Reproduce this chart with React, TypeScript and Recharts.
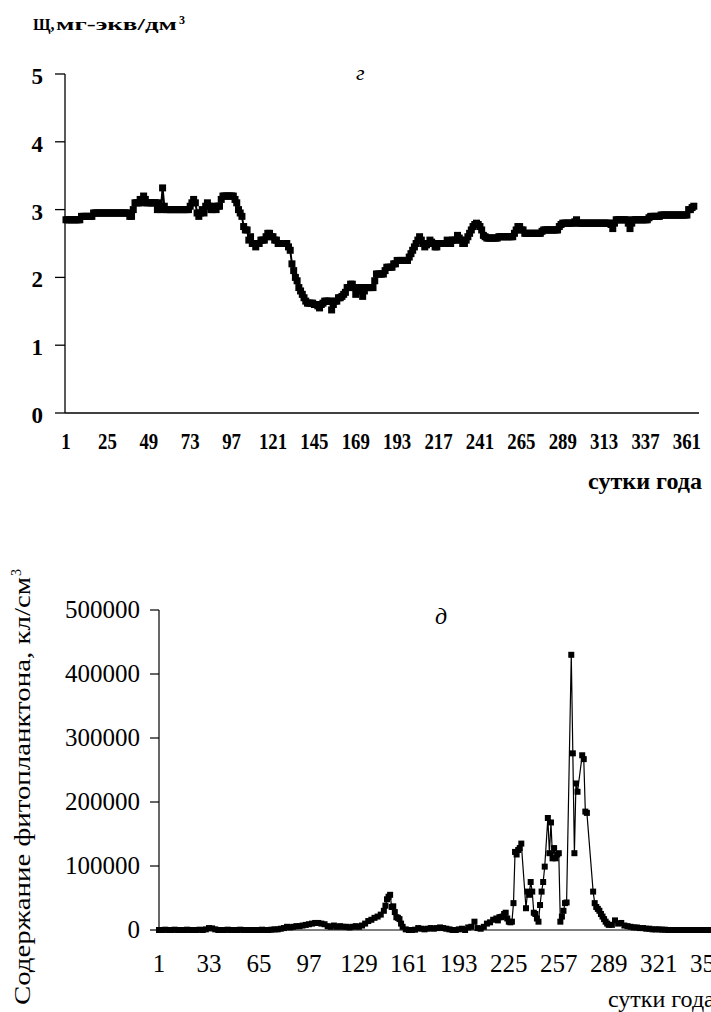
import React from "react";
import { LineChart, Line, XAxis, YAxis } from "recharts";

// Щелочность (мг-экв/дм3) по суткам года, 1..365
const alkalinity = [
  2.85, 2.85, 2.85, 2.85, 2.85, 2.85, 2.85, 2.85, 2.85, 2.9,
  2.9, 2.9, 2.9, 2.9, 2.9, 2.9, 2.95, 2.95, 2.95, 2.95,
  2.95, 2.95, 2.95, 2.95, 2.95, 2.95, 2.95, 2.95, 2.95, 2.95,
  2.95, 2.95, 2.95, 2.95, 2.95, 2.95, 2.95, 2.9, 2.9, 3.0,
  3.1, 3.1, 3.1, 3.15, 3.1, 3.2, 3.15, 3.1, 3.1, 3.1,
  3.1, 3.1, 3.1, 3.0, 3.1, 3.0, 3.32, 3.05, 3.0, 3.0,
  3.0, 3.0, 3.0, 3.0, 3.0, 3.0, 3.0, 3.0, 3.0, 3.0,
  3.0, 3.0, 3.05, 3.1, 3.15, 3.1, 2.95, 2.9, 2.95, 3.0,
  2.95, 3.05, 3.1, 3.05, 3.0, 3.0, 3.05, 3.0, 3.05, 3.05,
  3.15, 3.2, 3.2, 3.2, 3.2, 3.2, 3.2, 3.2, 3.15, 3.1,
  3.0, 2.95, 2.9, 2.75, 2.7, 2.7, 2.55, 2.6, 2.5, 2.5,
  2.45, 2.5, 2.5, 2.55, 2.55, 2.55, 2.6, 2.65, 2.65, 2.6,
  2.6, 2.55, 2.55, 2.5, 2.5, 2.5, 2.5, 2.5, 2.5, 2.45,
  2.4, 2.2, 2.1, 2.0, 1.95, 1.85, 1.8, 1.75, 1.7, 1.65,
  1.62, 1.62, 1.62, 1.62, 1.6, 1.6, 1.58, 1.55, 1.6, 1.62,
  1.65, 1.65, 1.65, 1.65, 1.52, 1.6, 1.65, 1.65, 1.7, 1.7,
  1.72, 1.75, 1.78, 1.85, 1.85, 1.9, 1.9, 1.85, 1.75, 1.8,
  1.85, 1.85, 1.72, 1.8, 1.85, 1.85, 1.85, 1.85, 1.85, 1.95,
  2.05, 2.05, 2.05, 2.05, 2.05, 2.1, 2.15, 2.15, 2.15, 2.15,
  2.2, 2.2, 2.25, 2.25, 2.25, 2.25, 2.25, 2.25, 2.25, 2.3,
  2.35, 2.4, 2.45, 2.5, 2.55, 2.6, 2.55, 2.5, 2.45, 2.48,
  2.5, 2.55, 2.52, 2.5, 2.45, 2.45, 2.5, 2.5, 2.5, 2.5,
  2.5, 2.55, 2.5, 2.5, 2.55, 2.55, 2.55, 2.62, 2.58, 2.55,
  2.5, 2.5, 2.55, 2.6, 2.65, 2.7, 2.75, 2.78, 2.8, 2.78,
  2.75, 2.7, 2.62, 2.6, 2.58, 2.58, 2.58, 2.58, 2.58, 2.58,
  2.58, 2.6, 2.6, 2.6, 2.6, 2.6, 2.6, 2.6, 2.6, 2.6,
  2.65, 2.7, 2.75, 2.75, 2.7, 2.7, 2.65, 2.65, 2.65, 2.65,
  2.65, 2.65, 2.65, 2.65, 2.65, 2.65, 2.68, 2.7, 2.7, 2.7,
  2.7, 2.7, 2.7, 2.7, 2.7, 2.7, 2.75, 2.78, 2.8, 2.8,
  2.8, 2.8, 2.8, 2.8, 2.8, 2.82, 2.85, 2.8, 2.8, 2.8,
  2.8, 2.8, 2.8, 2.8, 2.8, 2.8, 2.8, 2.8, 2.8, 2.8,
  2.8, 2.8, 2.8, 2.8, 2.8, 2.8, 2.78, 2.72, 2.8, 2.85,
  2.85, 2.85, 2.85, 2.85, 2.85, 2.85, 2.8, 2.72, 2.8, 2.85,
  2.85, 2.85, 2.85, 2.85, 2.85, 2.85, 2.85, 2.85, 2.88, 2.9,
  2.9, 2.9, 2.9, 2.9, 2.9, 2.92, 2.92, 2.92, 2.92, 2.92,
  2.92, 2.92, 2.92, 2.92, 2.92, 2.92, 2.92, 2.92, 2.92, 2.92,
  2.92, 3.0, 3.0, 3.03, 3.05,
];
const alkXTicks = [1, 25, 49, 73, 97, 121, 145, 169, 193, 217, 241, 265, 289, 313, 337, 361];
const alkYTicks = [0, 1, 2, 3, 4, 5];

// Фитопланктон, кл/см3: сутки наблюдений и численность
const phytoDays = [
  1, 3, 5, 7, 9, 11, 13, 15, 17, 19,
  21, 23, 25, 27, 29, 31, 33, 35, 37, 39,
  41, 43, 45, 47, 49, 51, 53, 55, 57, 59,
  61, 63, 65, 67, 69, 71, 73, 75, 77, 79,
  81, 83, 85, 87, 89, 91, 93, 95, 97, 99,
  101, 103, 105, 107, 109, 111, 113, 115, 117, 119,
  121, 123, 125, 127, 129, 131, 133, 135, 137, 139,
  141, 143, 145, 146, 147, 148, 149, 150, 151, 152,
  153, 154, 155, 156, 157, 159, 161, 163, 165, 167,
  169, 171, 173, 175, 177, 179, 181, 183, 185, 187,
  189, 191, 193, 195, 197, 199, 201, 203, 205, 207,
  209, 211, 213, 215, 217, 218, 219, 220, 221, 222,
  223, 224, 225, 226, 227, 228, 229, 230, 231, 232,
  233, 236, 237, 238, 239, 240, 241, 242, 243, 244,
  245, 246, 247, 248, 250, 251, 252, 253, 254, 255,
  256, 257, 258, 259, 260, 261, 262, 265, 266, 267,
  268, 269, 272, 273, 274, 275, 279, 280, 281, 282,
  283, 284, 285, 286, 287, 288, 289, 291, 293, 295,
  297, 299, 301, 303, 305, 307, 309, 311, 313, 315,
  317, 319, 321, 323, 325, 327, 329, 331, 333, 335,
  337, 339, 341, 343, 345, 347, 349, 351, 353, 355,
  357, 359, 361, 363, 365,
];
const phytoCounts = [
  0, 0, 500, 0, 0, 500, 0, 0, 0, 500,
  0, 0, 0, 500, 0, 1000, 3000, 2500, 1000, 0,
  0, 0, 500, 0, 0, 0, 500, 0, 0, 0,
  0, 0, 0, 500, 0, 0, 500, 1000, 1000, 2000,
  3000, 5000, 4000, 5000, 6000, 6000, 7000, 8000, 9000, 10000,
  11000, 11000, 10000, 9000, 6000, 5000, 7000, 5000, 6000, 5000,
  5000, 4000, 5000, 6000, 5000, 7000, 10000, 14000, 16000, 19000,
  21000, 24000, 30000, 38000, 48000, 52000, 55000, 36000, 37000, 28000,
  20000, 19000, 17000, 10000, 5000, 1000, 0, 0, 500, 3000,
  2000, 1000, 2000, 3000, 2000, 3000, 4000, 3000, 2000, 1000,
  0, 0, 1000, 2000, 0, 4000, 5000, 13000, 3000, 2000,
  5000, 10000, 12000, 16000, 18000, 15000, 20000, 20000, 21000, 25000,
  27000, 18000, 13000, 12000, 13000, 42000, 122000, 118000, 125000, 128000,
  135000, 34000, 60000, 55000, 75000, 60000, 27000, 25000, 18000, 13000,
  39000, 60000, 75000, 99000, 175000, 120000, 168000, 112000, 128000, 112000,
  118000, 120000, 13000, 21000, 30000, 42000, 43000, 430000, 276000, 120000,
  229000, 216000, 273000, 267000, 185000, 183000, 60000, 42000, 36000, 33000,
  30000, 25000, 21000, 17000, 13000, 10000, 8000, 8000, 15000, 10000,
  11000, 7000, 6000, 5000, 4000, 4000, 3000, 3000, 2000, 2000,
  1000, 1000, 1000, 500, 500, 0, 0, 0, 0, 0,
  0, 0, 0, 0, 0, 0, 0, 0, 0, 0,
  0, 0, 0, 0, 0,
];
const phytoXTicks = [1, 33, 65, 97, 129, 161, 193, 225, 257, 289, 321, 353];
const phytoYTicks = [0, 100000, 200000, 300000, 400000, 500000];

const alkData = alkalinity.map((v, i) => ({ day: i + 1, alk: v }));
const phytoData = phytoDays.map((d, i) => ({ day: d, count: phytoCounts[i] }));

const serif: React.CSSProperties = {
  fontFamily: '"Liberation Serif", "DejaVu Serif", serif',
};

const squareDot = (size: number) => (p: any) => (
  <rect
    key={`dot-${p.index}`}
    x={p.cx - size / 2}
    y={p.cy - size / 2}
    width={size}
    height={size}
    fill="#000"
  />
);

const AlkXTick = (p: any) => {
  const s = String(p.payload.value);
  return (
    <text
      x={p.x}
      y={p.y + 36}
      textAnchor="middle"
      style={serif}
      fontWeight="bold"
      fontSize={23}
      textLength={s.length * 9.4}
      lengthAdjust="spacingAndGlyphs"
      fill="#000"
    >
      {s}
    </text>
  );
};

const AlkYTick = (p: any) => (
  <text x={p.x} y={p.y + 10} textAnchor="end" style={serif} fontWeight="bold" fontSize={23} fill="#000">
    {p.payload.value}
  </text>
);

const PhytoXTick = (p: any) => (
  <text x={p.x} y={p.y + 42} textAnchor="middle" style={serif} fontSize={25} fill="#000">
    {p.payload.value}
  </text>
);

const PhytoYTick = (p: any) => (
  <text x={p.x} y={p.y + 8} textAnchor="end" style={serif} fontSize={25} fill="#000">
    {p.payload.value}
  </text>
);

export default function App() {
  return (
    <div
      style={{
        position: "absolute",
        left: 0,
        top: 0,
        width: 711,
        height: 1012,
        overflow: "hidden",
        background: "#fff",
      }}
    >
      {/* г: щелочность */}
      <div style={{ position: "absolute", left: 0, top: 0 }}>
        <LineChart width={711} height={460} data={alkData} margin={{ top: 74, right: 12, bottom: 0, left: 0 }}>
          <XAxis
            dataKey="day"
            type="number"
            domain={[0.42, 368]}
            ticks={alkXTicks}
            interval={0}
            height={47}
            tickLine={false}
            tickSize={0}
            tickMargin={0}
            tick={AlkXTick}
            axisLine={{ stroke: "#000", strokeWidth: 1.3 }}
          />
          <YAxis
            type="number"
            domain={[0, 5]}
            ticks={alkYTicks}
            interval={0}
            width={65}
            tickSize={10}
            tickMargin={12}
            tick={AlkYTick}
            tickLine={{ stroke: "#000", strokeWidth: 1.3 }}
            axisLine={{ stroke: "#000", strokeWidth: 1.3 }}
          />
          <Line
            type="linear"
            dataKey="alk"
            stroke="#000"
            strokeWidth={2}
            dot={squareDot(7)}
            activeDot={false}
            isAnimationActive={false}
          />
        </LineChart>
      </div>

      {/* д: фитопланктон */}
      <div style={{ position: "absolute", left: 0, top: 560 }}>
        <LineChart width={740} height={440} data={phytoData} margin={{ top: 50, right: 11, bottom: 0, left: 0 }}>
          <XAxis
            dataKey="day"
            type="number"
            domain={[1, 366]}
            ticks={phytoXTicks}
            interval={0}
            height={70}
            tickLine={false}
            tickSize={0}
            tickMargin={0}
            tick={PhytoXTick}
            axisLine={{ stroke: "#000", strokeWidth: 1.2 }}
          />
          <YAxis
            type="number"
            domain={[0, 500000]}
            ticks={phytoYTicks}
            interval={0}
            width={159}
            tickSize={9}
            tickMargin={10}
            tick={PhytoYTick}
            tickLine={{ stroke: "#000", strokeWidth: 1.2 }}
            axisLine={{ stroke: "#000", strokeWidth: 1.2 }}
          />
          <Line
            type="linear"
            dataKey="count"
            stroke="#000"
            strokeWidth={1.2}
            dot={squareDot(6)}
            activeDot={false}
            isAnimationActive={false}
          />
        </LineChart>
      </div>

      {/* подписи */}
      <svg
        width={711}
        height={1012}
        style={{ position: "absolute", left: 0, top: 0, pointerEvents: "none", ...serif }}
      >
        <text x={33} y={30} fontSize={16} fontWeight="bold" fill="#000" style={serif}>
          Щ,
        </text>
        <text
          x={56}
          y={30}
          fontSize={17}
          fontWeight="bold"
          fill="#000"
          style={serif}
          textLength={121}
          lengthAdjust="spacingAndGlyphs"
        >
          мг-экв/дм
        </text>
        <text x={179} y={24} fontSize={12} fontWeight="bold" fill="#000" style={serif}>
          3
        </text>
        <text x={356} y={80} fontSize={22} fontStyle="italic" fill="#000" style={serif}>
          г
        </text>
        <text
          x={588}
          y={489}
          fontSize={23}
          fontWeight="bold"
          fill="#000"
          style={serif}
          textLength={114}
          lengthAdjust="spacingAndGlyphs"
        >
          сутки года
        </text>

        <text x={435} y={624} fontSize={24} fontStyle="italic" fill="#000" style={serif}>
          д
        </text>
        <g transform="translate(30,0) rotate(-90)">
          <text
            x={-1005}
            y={0}
            fontSize={24}
            fill="#000"
            style={serif}
            textLength={428}
            lengthAdjust="spacingAndGlyphs"
          >
            Содержание фитопланктона, кл/см
          </text>
          <text x={-576} y={-9} fontSize={14} fill="#000" style={serif}>
            3
          </text>
        </g>
        <text x={608} y={1007} fontSize={24} fill="#000" style={serif}>
          сутки года
        </text>
      </svg>
    </div>
  );
}
